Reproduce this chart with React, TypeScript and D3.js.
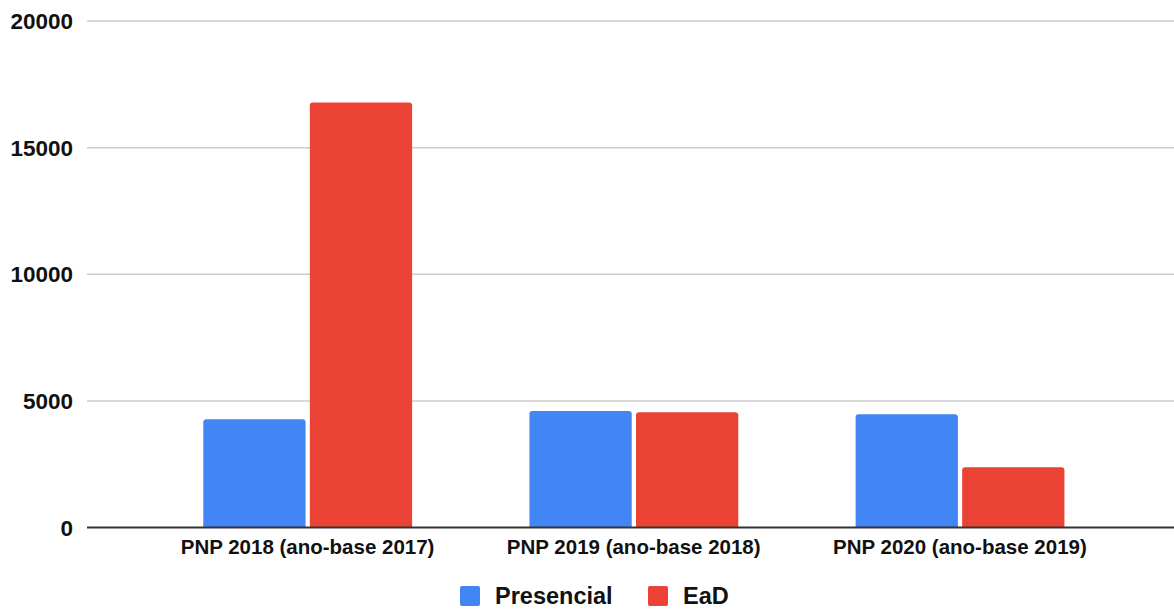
import React from "react";
import * as d3 from "d3";

const categories = ["PNP 2018 (ano-base 2017)", "PNP 2019 (ano-base 2018)", "PNP 2020 (ano-base 2019)"];
const presencial = [4275, 4600, 4470];
const ead = [16780, 4550, 2375];
const seriesNames = ["Presencial", "EaD"];
const seriesColors = ["#4285F4", "#EA4335"];
const yTicks = [0, 5000, 10000, 15000, 20000];

const W = 1174;
const H = 610;
const FONT = "'Liberation Sans', Arial, sans-serif";

export default function App() {
  const y = d3.scaleLinear().domain([0, 20000]).range([527.5, 21]);
  const x0 = d3.scaleBand<string>().domain(categories).range([144.5, 1123]).paddingInner(0).paddingOuter(0);
  const x1 = d3.scaleBand<string>().domain(seriesNames).range([58.8, 267.6]).paddingInner(0.04);
  const values = [presencial, ead];

  return (
    <svg width={W} height={H} style={{ position: "absolute", left: 0, top: 0, background: "#fff" }}>
      {yTicks.map((t) => (
        <g key={t}>
          {t !== 0 && (
            <line x1={87} x2={W} y1={y(t)} y2={y(t)} stroke="#cccccc" strokeWidth={1.5} />
          )}
          <text x={73} y={y(t)} dy="0.36em" textAnchor="end" fontFamily={FONT} fontWeight="bold" fontSize={22.5} fill="#111">
            {t}
          </text>
        </g>
      ))}
      {categories.map((c, i) => (
        <g key={c} transform={`translate(${x0(c)},0)`}>
          {seriesNames.map((s, j) => {
            const v = values[j][i];
            const bx = x1(s)!;
            const bw = x1.bandwidth();
            const top = y(v);
            const h = y(0) - top;
            const r = 3;
            const path = `M${bx},${y(0)} V${top + r} Q${bx},${top} ${bx + r},${top} H${bx + bw - r} Q${bx + bw},${top} ${bx + bw},${top + r} V${y(0)} Z`;
            return <path key={s} d={h > 0 ? path : ""} fill={seriesColors[j]} />;
          })}
          <text x={x0.bandwidth() / 2} y={553.5} textAnchor="middle" fontFamily={FONT} fontWeight="bold" fontSize={20.5} fill="#111">
            {c}
          </text>
        </g>
      ))}
      <line x1={87} x2={W} y1={y(0)} y2={y(0)} stroke="#333" strokeWidth={2} />
      {seriesNames.map((s, j) => {
        const lx = [460, 648][j];
        return (
          <g key={s}>
            <rect x={lx} y={586} width={20} height={20} rx={2} fill={seriesColors[j]} />
            <text x={lx + 35} y={603.5} fontFamily={FONT} fontWeight="bold" fontSize={23.5} fill="#111">
              {s}
            </text>
          </g>
        );
      })}
    </svg>
  );
}
